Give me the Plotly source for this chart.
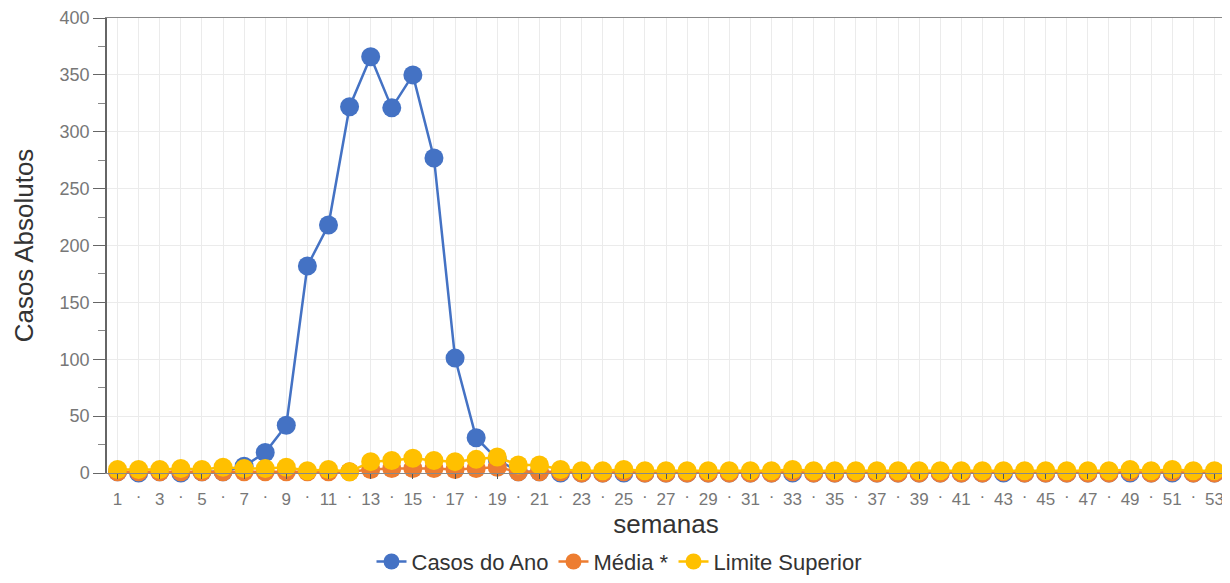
import plotly.graph_objects as go

semanas = list(range(1, 54))

casos_do_ano = [1, 0, 1, 0, 1, 1, 6, 18, 42, 182, 218, 322, 366, 321, 350, 277, 101, 31, 12, 1,
                1, 0, 0, 0, 0, 0, 0, 0, 0, 0, 0, 0, 0, 0, 0, 0, 0, 0, 0, 0,
                0, 0, 0, 0, 0, 0, 0, 0, 0, 0, 0, 0, 0]
media = [1, 1, 1, 1, 1, 1, 1, 1, 1, 1, 1, 1, 3, 4, 4, 4, 3, 4, 5, 1,
         1, 1, 0, 0, 1, 0, 0, 0, 0, 0, 0, 0, 1, 0, 0, 0, 0, 0, 0, 0,
         0, 0, 1, 0, 0, 0, 0, 0, 1, 0, 1, 0, 0]
limite_superior = [3, 3, 3, 4, 3, 5, 4, 4, 5, 2, 3, 1, 10, 11, 13, 11, 10, 12, 14, 7,
                   7, 3, 2, 2, 3, 2, 2, 2, 2, 2, 2, 2, 3, 2, 2, 2, 2, 2, 2, 2,
                   2, 2, 2, 2, 2, 2, 2, 2, 3, 2, 3, 2, 2]

odd_ticks = [w for w in semanas if w % 2 == 1]
odd_labels = [str(w) for w in odd_ticks]
even_ticks = [w for w in semanas if w % 2 == 0]
even_labels = ["·" for _ in even_ticks]

FONT = "Liberation Sans, Arial, sans-serif"

fig = go.Figure()
series = [
    ("Casos do Ano", casos_do_ano, "#4472C4"),
    ("Média *", media, "#ED7D31"),
    ("Limite Superior", limite_superior, "#FFC000"),
]
for name, vals, color in series:
    fig.add_trace(go.Scatter(
        x=semanas, y=vals, name=name, mode="lines+markers",
        line=dict(color=color, width=2.5),
        marker=dict(color=color, size=19),
        cliponaxis=False,
    ))
# empty trace so the secondary (even-week) label axis gets drawn
fig.add_trace(go.Scatter(x=[], y=[], xaxis="x2", showlegend=False, hoverinfo="skip"))

# page body has an 8px margin, so the figure is sized/offset to compensate
fig.update_layout(
    width=1222, height=575,
    margin=dict(l=99, r=5, t=10, b=110),
    paper_bgcolor="white", plot_bgcolor="white",
    font=dict(family=FONT, color="#444"),
    showlegend=True,
    legend=dict(orientation="h", xref="container", x=0.5, xanchor="center",
                yref="container", y=0.037, yanchor="middle",
                font=dict(size=22, color="#333"), itemwidth=30, tracegroupgap=0),
    xaxis=dict(
        range=[0.5, 53.5], tickmode="array", tickvals=odd_ticks, ticktext=odd_labels,
        tickfont=dict(size=17, color="#777"), ticks="outside", ticklen=5, tickcolor="#555",
        ticklabelstandoff=6,
        showgrid=True, gridcolor="#ebebeb", gridwidth=1, automargin=False,
        showline=True, linecolor="#888", mirror=True, zeroline=False,
        title=dict(text="semanas", font=dict(size=26, color="#333"), standoff=5),
    ),
    xaxis2=dict(
        overlaying="x", matches="x", side="bottom", range=[0.5, 53.5],
        tickmode="array", tickvals=even_ticks, ticktext=even_labels,
        tickfont=dict(size=17, color="#777"), ticks="", ticklabelstandoff=11,
        showgrid=True, gridcolor="#ebebeb", gridwidth=1, showline=False, zeroline=False,
        automargin=False,
    ),
    yaxis=dict(
        range=[0, 400], tickmode="linear", tick0=0, dtick=50,
        tickfont=dict(size=18, color="#777"), ticks="outside", ticklen=12, tickcolor="#666",
        minor=dict(dtick=25, ticks="outside", ticklen=7, tickcolor="#888", showgrid=False),
        showgrid=True, gridcolor="#ebebeb", gridwidth=1, automargin=False,
        showline=True, linecolor="#666", linewidth=1.5, mirror=True, zeroline=False,
        title=dict(text="Casos Absolutos", font=dict(size=26, color="#333"), standoff=19),
    ),
)

fig.write_html("out.html")
